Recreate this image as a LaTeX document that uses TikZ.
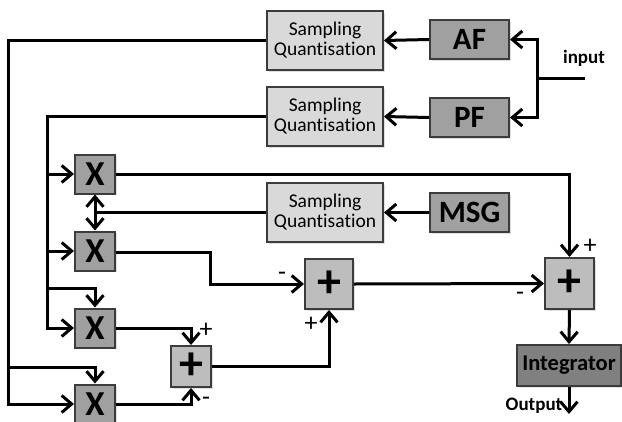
\documentclass[tikz,border=0pt]{standalone}
\usepackage{fontspec}
\setmainfont{Carlito}[Ligatures=CommonOff]
\usetikzlibrary{arrows.meta,shadows}
\definecolor{edgegrey}{HTML}{3C3C3C}
\definecolor{lightfill}{HTML}{D9D9D9}
\definecolor{midfill}{HTML}{A0A0A0}
\definecolor{sumfill}{HTML}{BDBDBD}
\definecolor{darkfill}{HTML}{808080}
\tikzset{
  blk/.style={draw=edgegrey, line width=2pt, inner sep=0pt, align=center,
    drop shadow={opacity=0.25, shadow xshift=1.5pt, shadow yshift=-1.5pt}},
  sampbox/.style={blk, fill=lightfill, minimum width=116pt, minimum height=59pt,
    font=\fontsize{19.5}{20}\selectfont},
  filtbox/.style={blk, fill=midfill, minimum width=79pt, minimum height=39pt,
    font=\fontsize{31}{31}\selectfont\bfseries},
  mulbox/.style={blk, fill=midfill, minimum width=40pt, minimum height=39pt,
    font=\fontsize{35}{35}\selectfont\bfseries},
  sumbox/.style={blk, fill=sumfill, font=\fontsize{48}{48}\selectfont\bfseries},
  tip/.tip={Straight Barb[length=10pt,width=17pt,line width=3pt]},
  wire/.style={line width=3pt, black},
  arr/.style={wire, -tip},
  dbl/.style={wire, tip-tip},
  sgn/.style={font=\fontsize{26}{26}\selectfont, inner sep=0pt},
  lbl/.style={font=\fontsize{19}{19}\selectfont\bfseries, inner sep=0pt}
}
\begin{document}
\begin{tikzpicture}[x=1pt,y=-1pt]
\useasboundingbox[fill=white] (0,0) rectangle (622,421);

% sampling / quantisation stages
\node[sampbox] (S1) at (325,40.5) {Sampling\\Quantisation};
\node[sampbox] (S2) at (325,116.5) {Sampling\\Quantisation};
\node[sampbox] (S3) at (325,212.5) {Sampling\\Quantisation};

% filters and signal generator
\node[filtbox] (AF) at (469.5,39.5) {AF};
\node[filtbox] (PF) at (469.5,117.5) {PF};
\node[filtbox] (MSG) at (469.5,212.5) {MSG};

% multipliers
\node[mulbox] (X1) at (95,174) {X};
\node[mulbox] (X2) at (95,251) {X};
\node[mulbox] (X3) at (95,328) {X};
\node[mulbox] (X4) at (95,404) {X};

% summing junctions
\node[sumbox, minimum width=48pt, minimum height=50pt] (A1) at (329,284) {+};
\node[sumbox, minimum width=49pt, minimum height=51pt] (A2) at (569.5,283.5) {+};
\node[sumbox, minimum width=40pt, minimum height=41pt] (A3) at (191,366.5) {+};

% integrator
\node[blk, fill=darkfill, minimum width=104pt, minimum height=41pt,
  font=\fontsize{22.5}{24}\selectfont\bfseries] (INT) at (569,365.5) {Integrator};

% input distribution
\coordinate (inp) at (585,78);
\coordinate (inj) at (537,78);
\node[lbl] (inlbl) at (584,58) {input};
\draw[wire] (inp) -- (inj);
\draw[arr] (inj) |- (AF.east);
\draw[arr] (inj) |- (PF.east);
\draw[arr] (AF.west) -- (S1.east);
\draw[arr] (PF.west) -- (S2.east);
\draw[arr] (MSG.west) -- (S3.east);

% first sampled signal: outer bus
\coordinate (busA) at (8,40.5);
\coordinate (busAb) at (8,367);
\draw[arr] (S1.west) -- (busA) |- (X4.west);
\draw[arr] (busAb) -| (X4.north);

% second sampled signal: inner bus
\coordinate (busB) at (47,116.5);
\coordinate (busBb) at (47,288);
\draw[arr] (S2.west) -- (busB) |- (X3.west);
\draw[arr] (busB |- X1.west) -- (X1.west);
\draw[arr] (busB |- X2.west) -- (X2.west);
\draw[arr] (busBb) -| (X3.north);

% reference signal to the upper multipliers
\draw[wire] (S3.west) -- (X1.south |- S3.west);
\draw[dbl] (X1.south) -- (X2.north);

% multiplier outputs
\draw[arr] (X1.east) -| (A2.north);
\coordinate (x2k) at (210,252);
\draw[arr] (X2.east |- x2k) -- (x2k) |- (A1.west);
\draw[arr] (X3.east) -| (A3.north);
\draw[arr] (X4.east) -| (A3.south);
\draw[arr] (A3.east) -| (A1.south);
\draw[arr] (A1.east) -- (A2.west);
\draw[arr] (A2.south) -- (INT.north);
\coordinate (outp) at (569,414);
\draw[arr] (INT.south) -- (outp);
\node[lbl] (outlbl) at (534,406) {Output};

% signs
\node[sgn] (s1) at (590,246) {+};
\node[sgn] (s2) at (520,296) {-};
\node[sgn] (s3) at (282,276) {-};
\node[sgn] (s4) at (311,324) {+};
\node[sgn] (s5) at (206,330) {+};
\node[sgn] (s6) at (206,401) {-};
\end{tikzpicture}
\end{document}
